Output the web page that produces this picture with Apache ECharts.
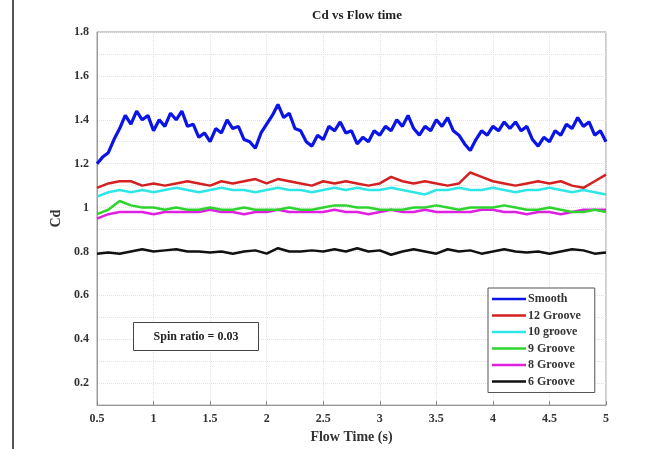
<!DOCTYPE html>
<html><head><meta charset="utf-8">
<script src="https://cdn.jsdelivr.net/npm/echarts@6/dist/echarts.min.js"></script>
<style>html,body{margin:0;padding:0;background:#fff}#c{width:654px;height:449px}</style>
</head><body><div id="c"></div>
<script>
const seriesNames = ['Smooth','12 Groove','10 groove','9 Groove','8 Groove','6 Groove'];
const seriesColors = ['#0a14e6','#d42020','#2ee6e6','#2fd42f','#e020e0','#111111'];
const yTickLabels = [0.2,0.4,0.6,0.8,1,1.2,1.4,1.6,1.8];
const xTickLabels = [0.5,1,1.5,2,2.5,3,3.5,4,4.5,5];

const timeFine = [0.50,0.55,0.60,0.65,0.70,0.75,0.80,0.85,0.90,0.95,1.00,1.05,1.10,1.15,1.20,1.25,1.30,1.35,1.40,1.45,1.50,1.55,1.60,1.65,1.70,1.75,1.80,1.85,1.90,1.95,2.00,2.05,2.10,2.15,2.20,2.25,2.30,2.35,2.40,2.45,2.50,2.55,2.60,2.65,2.70,2.75,2.80,2.85,2.90,2.95,3.00,3.05,3.10,3.15,3.20,3.25,3.30,3.35,3.40,3.45,3.50,3.55,3.60,3.65,3.70,3.75,3.80,3.85,3.90,3.95,4.00,4.05,4.10,4.15,4.20,4.25,4.30,4.35,4.40,4.45,4.50,4.55,4.60,4.65,4.70,4.75,4.80,4.85,4.90,4.95,5.00];
const smooth = [1.20,1.23,1.25,1.31,1.36,1.42,1.38,1.44,1.40,1.42,1.35,1.40,1.37,1.43,1.40,1.44,1.37,1.38,1.32,1.34,1.30,1.36,1.34,1.40,1.36,1.37,1.31,1.30,1.27,1.34,1.38,1.42,1.47,1.41,1.43,1.36,1.35,1.30,1.28,1.33,1.31,1.37,1.35,1.39,1.34,1.35,1.29,1.32,1.30,1.35,1.33,1.37,1.35,1.40,1.37,1.42,1.36,1.33,1.37,1.35,1.40,1.37,1.41,1.35,1.33,1.29,1.26,1.31,1.35,1.33,1.37,1.35,1.39,1.36,1.39,1.35,1.37,1.31,1.28,1.32,1.30,1.35,1.33,1.38,1.36,1.41,1.37,1.39,1.33,1.35,1.30];

const timeCoarse = [0.5,0.6,0.7,0.8,0.9,1.0,1.1,1.2,1.3,1.4,1.5,1.6,1.7,1.8,1.9,2.0,2.1,2.2,2.3,2.4,2.5,2.6,2.7,2.8,2.9,3.0,3.1,3.2,3.3,3.4,3.5,3.6,3.7,3.8,3.9,4.0,4.1,4.2,4.3,4.4,4.5,4.6,4.7,4.8,4.9,5.0];
const groove12 = [1.09,1.11,1.12,1.12,1.10,1.11,1.10,1.11,1.12,1.11,1.10,1.12,1.11,1.12,1.13,1.11,1.13,1.12,1.11,1.10,1.12,1.11,1.12,1.11,1.10,1.11,1.14,1.12,1.11,1.12,1.11,1.10,1.11,1.16,1.14,1.12,1.11,1.10,1.11,1.12,1.11,1.12,1.10,1.09,1.12,1.15];
const groove10 = [1.05,1.07,1.08,1.07,1.08,1.07,1.08,1.09,1.08,1.07,1.08,1.09,1.08,1.08,1.07,1.08,1.09,1.08,1.08,1.07,1.08,1.09,1.08,1.09,1.08,1.08,1.09,1.08,1.07,1.06,1.08,1.08,1.09,1.08,1.08,1.09,1.08,1.07,1.08,1.08,1.09,1.08,1.07,1.08,1.07,1.06];
const groove9 = [0.97,0.99,1.03,1.01,1.00,1.00,0.99,1.00,0.99,0.99,1.00,0.99,0.99,1.00,0.99,0.99,0.99,1.00,0.99,0.99,1.00,1.01,1.01,1.00,1.00,0.99,0.99,0.99,1.00,1.00,1.01,1.00,0.99,1.00,1.00,1.00,1.01,1.00,0.99,0.99,1.00,0.99,0.98,0.98,0.99,0.98];
const groove8 = [0.95,0.97,0.98,0.98,0.98,0.97,0.98,0.98,0.98,0.98,0.99,0.98,0.98,0.97,0.98,0.98,0.99,0.98,0.98,0.98,0.98,0.99,0.98,0.98,0.97,0.98,0.99,0.98,0.98,0.99,0.98,0.98,0.98,0.98,0.99,0.99,0.98,0.98,0.97,0.98,0.98,0.97,0.98,0.99,0.99,0.99];
const groove6 = [0.79,0.795,0.79,0.80,0.81,0.80,0.805,0.81,0.80,0.80,0.795,0.80,0.79,0.80,0.805,0.79,0.815,0.80,0.80,0.805,0.80,0.81,0.80,0.815,0.80,0.805,0.785,0.80,0.81,0.80,0.79,0.81,0.80,0.805,0.79,0.80,0.81,0.80,0.795,0.80,0.79,0.80,0.81,0.805,0.79,0.795];

const valueSets = [[timeFine,smooth],[timeCoarse,groove12],[timeCoarse,groove10],[timeCoarse,groove9],[timeCoarse,groove8],[timeCoarse,groove6]];
const serif = '"Liberation Serif","DejaVu Serif",serif';

const chart = echarts.init(document.getElementById('c'), null, {renderer:'canvas'});
chart.setOption({
  animation:false,
  backgroundColor:'#fff',
  title:{text:'Cd vs Flow time', left:352, top:4, textAlign:'center',
    textStyle:{fontFamily:serif, fontSize:13, fontWeight:'bold', color:'#222'}},
  grid:{left:97, right:48, top:32, bottom:43, show:true, borderColor:'#9a9a9a', borderWidth:1, backgroundColor:'#fff'},
  legend:{orient:'vertical', left:488, top:288, width:112,
    data:seriesNames, backgroundColor:'#fff', borderColor:'#555', borderWidth:1,
    padding:[5,14,5,4], itemGap:4.5, itemWidth:34, itemHeight:12, icon:'path://M0,5h34v2.4h-34z',
    textStyle:{fontFamily:serif, fontSize:12, fontWeight:'bold', color:'#333', padding:[0,0,0,-3]}},
  xAxis:{type:'value', min:0.5, max:5, interval:0.5,
    name:'Flow Time (s)', nameLocation:'middle', nameGap:22,
    nameTextStyle:{fontFamily:serif, fontSize:14, fontWeight:'bold', color:'#333'},
    axisLine:{show:true, lineStyle:{color:'#9a9a9a'}},
    axisTick:{show:true, inside:true, length:4, lineStyle:{color:'#888'}},
    axisLabel:{fontFamily:serif, fontSize:12, fontWeight:'bold', color:'#333', margin:8,
      formatter:v=>String(xTickLabels.find(t=>Math.abs(t-v)<1e-6) ?? '')},
    splitLine:{show:true, lineStyle:{color:'#e2e2e2', type:'dotted'}}},
  yAxis:{type:'value', min:0.1, max:1.8, interval:0.1,
    name:'Cd', nameLocation:'middle', nameGap:31, nameRotate:90,
    nameTextStyle:{fontFamily:serif, fontSize:14, fontWeight:'bold', color:'#333'},
    axisLine:{show:true, lineStyle:{color:'#9a9a9a'}},
    axisTick:{show:false},
    axisLabel:{fontFamily:serif, fontSize:12, fontWeight:'bold', color:'#333', margin:8,
      formatter:v=>{const t=yTickLabels.find(t=>Math.abs(t-v)<1e-6); return t===undefined?'':String(t);}},
    splitLine:{show:true, lineStyle:{color:'#e2e2e2', type:'dotted'}}},
  graphic:[
    {type:'rect', left:12, top:0, z:100, shape:{width:2, height:449}, style:{fill:'#555'}},
    {type:'group', left:133, top:322, z:100, children:[
      {type:'rect', z:100, shape:{x:0,y:0,width:125,height:28}, style:{fill:'#fff', stroke:'#444', lineWidth:1}},
      {type:'text', z:101, x:62.5, y:14, style:{text:'Spin ratio = 0.03', fontFamily:serif, fontSize:12, fontWeight:'bold', fill:'#222', align:'center', verticalAlign:'middle'}}
    ]}
  ],
  series: seriesNames.map((n,i)=>({
    name:n, type:'line', showSymbol:false, symbol:'none',
    data: valueSets[i][0].map((x,k)=>[x, valueSets[i][1][k]]),
    lineStyle:{color:seriesColors[i], width: i===0?3.2:2.5}, itemStyle:{color:seriesColors[i]},
    z: 10-i
  }))
});
</script></body></html>
